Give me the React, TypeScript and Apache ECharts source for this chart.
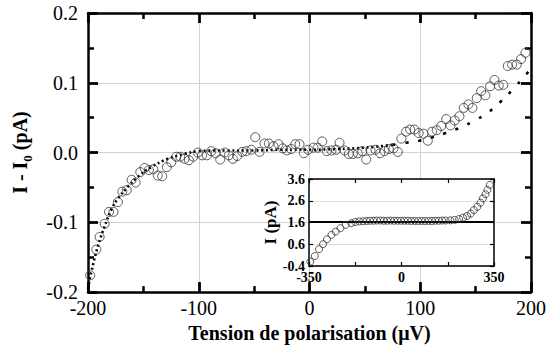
import React, { useEffect, useRef } from "react";
import * as echarts from "echarts";

// Main plot: measured I - I0 (pA) vs bias (µV)
const mainX = [
  -198, -192.5, -189.5, -185, -181, -177, -173, -169, -165, -160.6,
  -157, -152.8, -148.9, -145, -141, -137, -133, -128.8, -124.8, -120.3,
  -116.7, -112.8, -108.9, -105, -100.8, -97, -92.7, -88.7, -84.8, -80.6,
  -76.7, -72.8, -69.2, -65.3, -60.7, -57.1, -52.6, -49, -45.1, -40.6,
  -36.7, -32.5, -28, -24.1, -20.5, -16.5, -12.9, -9, -5.1, -1.2,
  3.6, 7.5, 11.5, 15.6, 19.8, 24, 27.1, 31.6, 35.5, 39.1,
  43.6, 47.6, 51.2, 55.1, 59.6, 63.8, 67.7, 71.6, 75.8, 79.7,
  83, 87.3, 90.9, 94.8, 98.6, 102.9, 106.8, 110.7, 114.9, 118.9,
  123.4, 127.3, 131.1, 135.4, 139.3, 143.5, 147.1, 151, 155, 158.8,
  163.1, 167, 170.9, 175.1, 179, 182.9, 187.1, 191, 195,
];
const mainY = [
  -0.176, -0.139, -0.121, -0.102, -0.085, -0.085, -0.071, -0.056, -0.054, -0.039,
  -0.043, -0.028, -0.022, -0.025, -0.024, -0.033, -0.034, -0.021, -0.014, -0.006,
  -0.006, -0.009, -0.011, -0.006, 0.0, -0.004, -0.004, 0.002, -0.001, -0.01,
  0.0, -0.004, -0.009, -0.005, 0.001, 0.002, 0.004, 0.022, 0.001, 0.013,
  0.013, 0.009, 0.012, 0.006, 0.003, 0.005, 0.012, 0.012, -0.001, 0.004,
  0.007, 0.007, 0.016, 0.002, 0.003, 0.004, 0.014, 0.003, -0.002, -0.002,
  -0.001, 0.002, -0.01, 0.003, 0.004, -0.001, 0.002, 0.005, 0.006, 0.001,
  0.02, 0.03, 0.033, 0.033, 0.028, 0.027, 0.017, 0.03, 0.032, 0.038,
  0.048, 0.039, 0.046, 0.052, 0.064, 0.069, 0.064, 0.078, 0.088, 0.082,
  0.095, 0.104, 0.096, 0.097, 0.124, 0.126, 0.126, 0.134, 0.143,
];

// Fit curve (dotted), left/flat part and right part
const fitLeftX = [-200, -197, -191, -185, -179, -173, -164, -155, -143, -128, -113, -100, -75, -50, -25, 0, 25, 50, 75];
const fitLeftY = [-0.195, -0.171, -0.134, -0.106, -0.082, -0.066, -0.049, -0.035, -0.021, -0.009, -0.002, 0.002, 0.003, 0.003, 0.004, 0.004, 0.005, 0.007, 0.011];
const fitRightX = [75, 87, 99, 111, 123, 135, 148, 160, 172, 184, 194, 200];
const fitRightY = [0.011, 0.014, 0.017, 0.022, 0.028, 0.035, 0.045, 0.056, 0.072, 0.091, 0.109, 0.12];

// Inset: raw current I (pA)
const insetX = [
  -345, -328, -312, -297, -282, -265, -249, -231, -211, -190,
  -175, -160, -145, -132, -119, -106, -93, -80, -67, -54,
  -41, -28, -15, -2, 11, 24, 37, 50, 63, 76,
  89, 102, 115, 128, 141, 154, 167, 185, 201, 218,
  233, 248, 262, 274, 287, 299, 308, 318, 325, 334,
];
const insetY = [
  -0.2, 0.06, 0.37, 0.6, 0.83, 1.03, 1.18, 1.34, 1.49, 1.57,
  1.62, 1.65, 1.66, 1.67, 1.68, 1.68, 1.69, 1.69, 1.68, 1.68,
  1.69, 1.68, 1.68, 1.68, 1.68, 1.68, 1.67, 1.67, 1.67, 1.67,
  1.67, 1.67, 1.67, 1.68, 1.68, 1.69, 1.69, 1.7, 1.72, 1.76,
  1.82, 1.9, 2.01, 2.17, 2.32, 2.51, 2.71, 2.9, 3.1, 3.33,
];
const baselineX = [-350, 350];
const baselineY = [1.62, 1.62];

const mainXTicks = { min: -200, max: 200, interval: 100 };
const mainYTicks = { min: -0.2, max: 0.2, interval: 0.1 };
const insetXTicks = { min: -350, max: 350, interval: 175, labeled: [-350, 0, 350] };
const insetYTicks = { min: -0.4, max: 3.6, interval: 1 };

const FONT = "Liberation Serif";

function zip(xs: number[], ys: number[]) {
  return xs.map((x, i) => [x, ys[i]]);
}

export default function App() {
  const ref = useRef<HTMLDivElement>(null);
  useEffect(() => {
    if (!ref.current) return;
    const chart = echarts.init(ref.current, undefined, { renderer: "svg" });
    const frameLine = { show: true, onZero: false, lineStyle: { color: "#000", width: 2.5 } };
    const mainTick = { show: true, inside: true, length: 10, lineStyle: { color: "#000", width: 2.8 } };
    const mainMinor = { show: true, splitNumber: 2, length: 6, lineStyle: { color: "#000", width: 2.5 } };
    const grid = { show: true, lineStyle: { color: "#d2d2d2", width: 1 } };
    const lbl = { color: "#000", fontFamily: FONT, fontSize: 20 };
    const insetLine = { show: true, onZero: false, lineStyle: { color: "#000", width: 1.5 } };
    const insetTick = { show: true, inside: true, length: 4, lineStyle: { color: "#000", width: 1.2 } };
    const insetLbl = { color: "#000", fontFamily: FONT, fontSize: 14, fontWeight: "bold" as const };

    const option: any = {
      animation: false,
      backgroundColor: "#fff",
      grid: [
        { left: 88, top: 13, right: 26, bottom: 51, z: 0 },
        { left: 309, top: 179, width: 185, height: 87, show: true, backgroundColor: "#fff", borderWidth: 0, z: 5 },
      ],
      xAxis: [
        {
          type: "value", gridIndex: 0, position: "bottom", ...mainXTicks,
          axisLine: frameLine, axisTick: mainTick, minorTick: mainMinor, splitLine: grid,
          axisLabel: { ...lbl, margin: 6, formatter: (v: number) => String(Math.round(v)) },
          name: "Tension de polarisation (μV)", nameLocation: "middle", nameGap: 20,
          nameTextStyle: { color: "#000", fontFamily: FONT, fontSize: 20, fontWeight: "bold" },
        },
        {
          type: "value", gridIndex: 0, position: "top", ...mainXTicks,
          axisLine: frameLine, axisTick: mainTick, minorTick: mainMinor, splitLine: { show: false },
          axisLabel: { show: false },
        },
        {
          type: "value", gridIndex: 1, position: "bottom", ...insetXTicks, z: 6,
          axisLine: insetLine, axisTick: insetTick, splitLine: { show: false },
          axisLabel: {
            ...insetLbl, margin: 4,
            formatter: (v: number) => (insetXTicks.labeled.includes(Math.round(v)) ? String(Math.round(v)) : ""),
          },
        },
        {
          type: "value", gridIndex: 1, position: "top", ...insetXTicks, z: 6,
          axisLine: insetLine, axisTick: insetTick, splitLine: { show: false }, axisLabel: { show: false },
        },
      ],
      yAxis: [
        {
          type: "value", gridIndex: 0, position: "left", ...mainYTicks,
          axisLine: frameLine, axisTick: mainTick, minorTick: mainMinor, splitLine: grid,
          axisLabel: { ...lbl, margin: 10, formatter: (v: number) => (Math.abs(v) < 1e-9 ? "0.0" : v.toFixed(1)) },
          name: "{t|I - I}{s|0}{t| (pA)}", nameLocation: "middle", nameGap: 54, nameRotate: 90,
          nameTextStyle: {
            rich: {
              t: { color: "#000", fontFamily: FONT, fontSize: 20, fontWeight: "bold", lineHeight: 28 },
              s: { color: "#000", fontFamily: FONT, fontSize: 13, fontWeight: "bold", lineHeight: 13, verticalAlign: "bottom" },
            },
          },
        },
        {
          type: "value", gridIndex: 0, position: "right", ...mainYTicks,
          axisLine: frameLine, axisTick: mainTick, minorTick: mainMinor, splitLine: { show: false },
          axisLabel: { show: false },
        },
        {
          type: "value", gridIndex: 1, position: "left", ...insetYTicks, z: 6,
          axisLine: insetLine, axisTick: insetTick,
          splitLine: { show: true, lineStyle: { color: "#dcdcdc", width: 1 } },
          axisLabel: { ...insetLbl, margin: 4, formatter: (v: number) => v.toFixed(1) },
          name: "I (pA)", nameLocation: "middle", nameGap: 30, nameRotate: 90,
          nameTextStyle: { color: "#000", fontFamily: FONT, fontSize: 17, fontWeight: "bold" },
        },
        {
          type: "value", gridIndex: 1, position: "right", ...insetYTicks, z: 6,
          axisLine: insetLine, axisTick: insetTick, splitLine: { show: false }, axisLabel: { show: false },
        },
      ],
      series: [
        {
          type: "line", xAxisIndex: 0, yAxisIndex: 0, data: zip(fitLeftX, fitLeftY), smooth: 0.4,
          showSymbol: false, lineStyle: { color: "#000", width: 2.6, type: [2, 2.8], cap: "butt" }, z: 2,
        },
        {
          type: "line", xAxisIndex: 0, yAxisIndex: 0, data: zip(fitRightX, fitRightY), smooth: 0.4,
          showSymbol: false, lineStyle: { color: "#000", width: 2.6, type: [3, 10], cap: "butt" }, z: 2,
        },
        {
          type: "scatter", xAxisIndex: 0, yAxisIndex: 0, data: zip(mainX, mainY), symbol: "circle", symbolSize: 9,
          itemStyle: { color: "transparent", borderColor: "#333", borderWidth: 1 }, z: 3,
        },
        {
          type: "line", xAxisIndex: 2, yAxisIndex: 2, data: zip(baselineX, baselineY), showSymbol: false,
          lineStyle: { color: "#000", width: 2 }, z: 7,
        },
        {
          type: "scatter", xAxisIndex: 2, yAxisIndex: 2, data: zip(insetX, insetY), symbol: "circle", symbolSize: 7,
          itemStyle: { color: "transparent", borderColor: "#333", borderWidth: 1 }, z: 8,
        },
      ],
    };
    chart.setOption(option);
    return () => chart.dispose();
  }, []);
  return <div ref={ref} style={{ position: "fixed", left: 0, top: 0, width: 557, height: 348 }} />;
}
